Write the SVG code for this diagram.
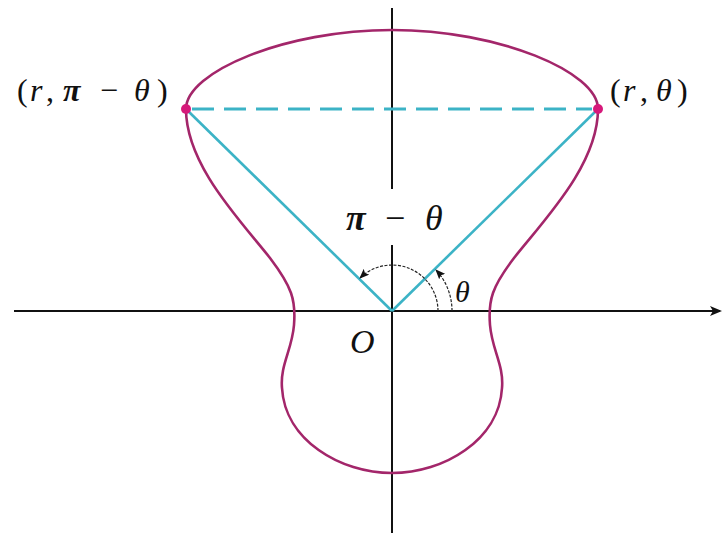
<svg xmlns="http://www.w3.org/2000/svg" width="722" height="533" viewBox="0 0 722 533">
<defs>
<style>
.ax{stroke:#111;stroke-width:2;fill:none}
.curve{stroke:#a3266a;stroke-width:2.6;fill:none}
.ray{stroke:#3cb3c6;stroke-width:2.6;fill:none}
.dash{stroke:#3cb3c6;stroke-width:3;fill:none;stroke-dasharray:22 10}
.arc{stroke:#222;stroke-width:1.2;fill:none;stroke-dasharray:3 1.5}
.dot{fill:#d6197a}
text{font-family:"Liberation Serif","Times New Roman",serif;fill:#111}
.it{font-style:italic}
.b{font-weight:bold;font-style:italic}
</style>
<marker id="axhead" markerWidth="12" markerHeight="10" refX="10" refY="5" orient="auto" markerUnits="userSpaceOnUse">
<path d="M0,0 L12,5 L0,10 L3,5 Z" fill="#111"/>
</marker>
<marker id="arcHead" markerWidth="10" markerHeight="8" refX="9" refY="4" orient="auto" markerUnits="userSpaceOnUse">
<path d="M0,0 L10,4 L0,8 L2,4 Z" fill="#111"/>
</marker>
</defs>
<g id="axes">
<line class="ax" x1="14" y1="311" x2="720" y2="311" marker-end="url(#axhead)"/>
<line class="ax" x1="392" y1="8" x2="392" y2="189"/>
<line class="ax" x1="392" y1="245" x2="392" y2="533"/>
</g>
<g id="curve">
<path class="curve" d="M186,109 C186,72 285,30 392,30 C499,30 598,72 598,109 C598,165 544,220 514,258 C492,287 488,300 490,325 C492,350 504,365 502,388 C499,440 444,473 392,473 C340,473 285,440 282,388 C280,365 292,350 294,325 C296,300 292,287 270,258 C240,220 186,165 186,109 Z"/>
</g>
<g id="connectors">
<line class="dash" x1="192" y1="109" x2="592" y2="109"/>
<line class="ray" x1="392" y1="311" x2="186" y2="109"/>
<line class="ray" x1="392" y1="311" x2="598" y2="109"/>
<path class="arc" d="M438,311 A46,46 0 0 0 360,278" marker-end="url(#arcHead)"/>
<path class="arc" d="M452,311 A60,60 0 0 0 436,270" marker-end="url(#arcHead)"/>
</g>
<g id="point-left">
<circle class="dot" cx="186" cy="109" r="5"/>
<text y="101" font-size="32"><tspan x="17">(</tspan><tspan class="it" x="30">r</tspan><tspan x="46">,</tspan><tspan class="b" x="63">π</tspan><tspan x="100">−</tspan><tspan class="it" x="134">θ</tspan><tspan x="157">)</tspan></text>
</g>
<g id="point-right">
<circle class="dot" cx="598" cy="109" r="5"/>
<text y="101" font-size="32"><tspan x="610">(</tspan><tspan class="it" x="623">r</tspan><tspan x="640">,</tspan><tspan class="it" x="656">θ</tspan><tspan x="677">)</tspan></text>
</g>
<g id="labels">
<text y="230" font-size="36"><tspan class="b" x="346">π</tspan><tspan x="385">−</tspan><tspan class="it" x="425">θ</tspan></text>
<text class="it" x="455" y="302" font-size="30">θ</text>
<text class="it" x="350" y="353" font-size="34">O</text>
</g>
</svg>
